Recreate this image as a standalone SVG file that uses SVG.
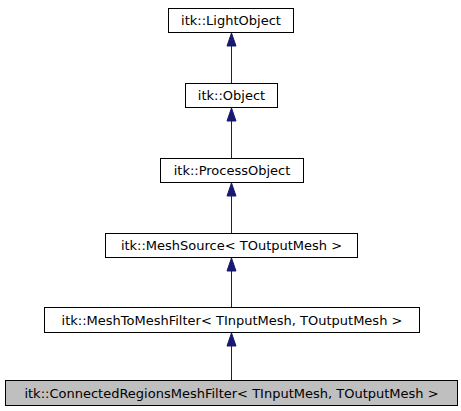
<svg xmlns="http://www.w3.org/2000/svg" width="461" height="411" viewBox="0 0 461 411">
<defs>
<style>
.box{fill:#ffffff;stroke:#000000;stroke-width:1}
.cur{fill:#bfbfbf;stroke:#000000;stroke-width:1}
.lbl{font-family:"DejaVu Sans",sans-serif;font-size:13px;fill:#000000;text-anchor:middle}
.edge{stroke:#191970;stroke-width:1;fill:none}
.head{fill:#191970;stroke:#191970;stroke-width:1}
</style>
</defs>
<rect width="461" height="411" fill="#ffffff"/>
<g id="connectors">
<line class="edge" x1="231.5" y1="83" x2="231.5" y2="33"/>
<line class="edge" x1="231.5" y1="158" x2="231.5" y2="108"/>
<line class="edge" x1="231.5" y1="233" x2="231.5" y2="183"/>
<line class="edge" x1="231.5" y1="307" x2="231.5" y2="258"/>
<line class="edge" x1="231.5" y1="380" x2="231.5" y2="333"/>
<path class="head" d="M231.5,33 L236,46 L227,46 Z"/>
<path class="head" d="M231.5,108 L236,121 L227,121 Z"/>
<path class="head" d="M231.5,183 L236,196 L227,196 Z"/>
<path class="head" d="M231.5,258 L236,271 L227,271 Z"/>
<path class="head" d="M231.5,333 L236,346 L227,346 Z"/>
</g>
<g id="n_lightobject">
<rect class="box" x="168.5" y="8.5" width="125" height="24"/>
<text class="lbl" x="231" y="25">itk::LightObject</text>
</g>
<g id="n_object">
<rect class="box" x="185.5" y="83.5" width="92" height="24"/>
<text class="lbl" x="231.5" y="100">itk::Object</text>
</g>
<g id="n_processobject">
<rect class="box" x="160.5" y="158.5" width="143" height="24"/>
<text class="lbl" x="232" y="175">itk::ProcessObject</text>
</g>
<g id="n_meshsource">
<rect class="box" x="105.5" y="233.5" width="252" height="24"/>
<text class="lbl" x="231.5" y="250">itk::MeshSource&lt; TOutputMesh &gt;</text>
</g>
<g id="n_meshtomesh">
<rect class="box" x="44.5" y="307.5" width="375" height="25"/>
<text class="lbl" x="232" y="324.5">itk::MeshToMeshFilter&lt; TInputMesh, TOutputMesh &gt;</text>
</g>
<g id="n_connected">
<rect class="cur" x="5.5" y="380.5" width="452" height="25"/>
<text class="lbl" x="231.5" y="397.5">itk::ConnectedRegionsMeshFilter&lt; TInputMesh, TOutputMesh &gt;</text>
</g>
</svg>
